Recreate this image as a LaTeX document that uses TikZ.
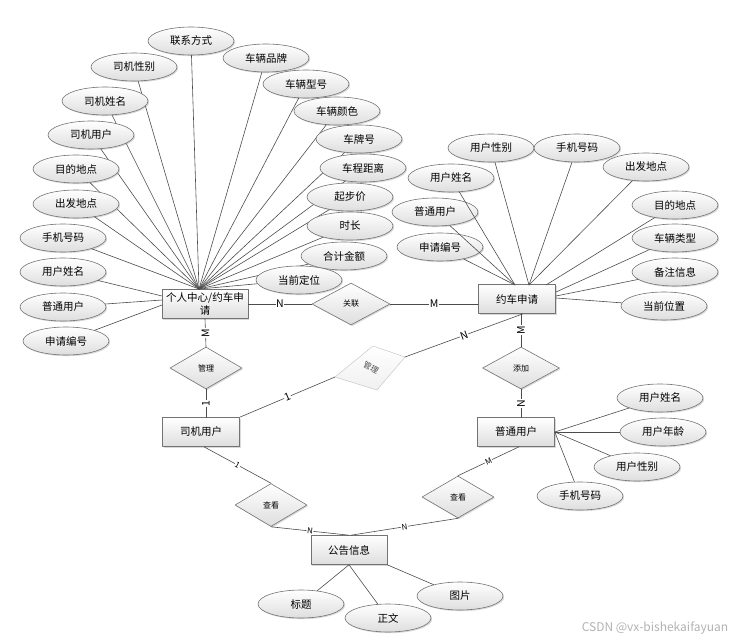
\documentclass[tikz,border=0pt]{standalone}
\usepackage{fontspec}
\setmainfont{Noto Sans CJK SC}
\usetikzlibrary{shapes.geometric,shadows}
\begin{document}
\begin{tikzpicture}[x=1pt,y=-1pt,line join=round,line cap=round]
    \tikzset{shade box/.style={top color=white,bottom color=black!13,draw=black!55,line width=0.6pt,
            drop shadow={shadow xshift=1.2pt,shadow yshift=-1.2pt,opacity=0.3}},
        entity/.style={shade box,rectangle,minimum width=77pt,minimum height=29pt,inner sep=1pt,font=\fontsize{10.5}{12.5}\selectfont},
        attr/.style={shade box,ellipse,minimum width=86pt,minimum height=28pt,inner sep=0pt,font=\fontsize{10.5}{12}\selectfont},
        rel/.style={shade box,diamond,minimum width=76pt,minimum height=42pt,inner sep=0pt,font=\fontsize{8}{10}\selectfont},
        link/.style={draw=black!70,line width=0.6pt},
        card/.style={fill=white,inner sep=0.6pt,font=\fontsize{10.5}{12}\selectfont},
        small card/.style={card,font=\fontsize{8}{10}\selectfont}}
    \useasboundingbox (0,0) rectangle (750,642);
    % entities
    \node[entity,minimum width=86pt,align=center,inner xsep=3pt] (pc) at (205,304) {个人中心/约车申\\请};
    \node[entity] (req) at (517,299) {约车申请};
    \node[entity] (drv) at (201,432) {司机用户};
    \node[entity] (usr) at (516,432) {普通用户};
    \node[entity,minimum width=76pt] (ann) at (349,550) {公告信息};
    % relations
    \node[rel,minimum width=78pt] (link1) at (351,304) {关联};
    \node[rel,minimum width=72pt] (mng) at (206,368) {管理};
    \node[rel,minimum width=77pt] (add) at (521,368) {添加};
    \node[rel,minimum width=72pt,minimum height=43pt] (viewd) at (271,505) {查看};
    \node[rel,minimum width=72pt] (viewu) at (458,497) {查看};
    \coordinate (gt) at (373,346);
    \coordinate (gr) at (405,357);
    \coordinate (gb) at (377,390);
    \coordinate (gl) at (335,377);
    \draw[draw=black!25,top color=white,bottom color=black!6] (gt) -- (gr) -- (gb) -- (gl) -- cycle;
    \node[rotate=-28,text=black!70,font=\fontsize{8}{10}\selectfont] (mng2) at (371,368) {管理};
    % end points of the fans
    \coordinate (pf) at (199,289);
    \coordinate (pl1) at (162,296);
    \coordinate (pl2) at (162,300);
    \coordinate (pl3) at (162,305);
    \coordinate (rf1) at (515,285);
    \coordinate (rf2) at (529,285);
    \coordinate (rf3) at (546,285);
    \coordinate (rr1) at (556,292);
    \coordinate (rr2) at (556,296);
    \coordinate (rr3) at (556,298);
    % attributes
    \foreach \n/\x/\y/\t/\e in {dtel/191/41/联系方式/pf,dsex/134/67/司机性别/pf,dname/105/101/司机姓名/pf,
            duser/91/135/司机用户/pf,ddst/76/169/目的地点/pf,dsrc/76/204/出发地点/pf,ptel/63/238/手机号码/pf,
            pname/63/272/用户姓名/pl1,puser/63/307/普通用户/pl2,pno/66/341/申请编号/pl3,
            cbrand/266/58/车辆品牌/pf,cmodel/306/84/车辆型号/pf,ccolor/337/111/车辆颜色/pf,cplate/359/139/车牌号/pf,
            cdist/363/168/车程距离/pf,cbase/350/197/起步价/pf,ctime/350/226/时长/pf,ctotal/344/256/合计金额/pf,
            cloc/299/280/当前定位/pf,
            rno/440/247/申请编号/rf1,ruser/435/212/普通用户/rf1,rname/451/178/用户姓名/rf1,rsex/491/148/用户性别/rf2,
            rtel/577/148/手机号码/rf2,rsrc/646/167/出发地点/rf2,rdst/675/205/目的地点/rf3,rtype/675/238/车辆类型/rr1,
            rnote/675/272/备注信息/rr2,rpos/664/306/当前位置/rr3,
            uname/660/398/用户姓名/usr.east,uage/663/432/用户年龄/usr.east,usex/637/467/用户性别/usr.east,
            utel/580/496/手机号码/usr.east,
            ttl/301/604/标题/ann.south,body/388/618/正文/ann.south,pic/460/596/图片/ann.south east}
    {
        \node[attr] (\n) at (\x,\y) {\t};
        \draw[link] (\n) -- (\e);
    }
    % relationships
    \draw[link] (pc) -- node[card] {N} (link1);
    \draw[link] (link1) -- node[card] {M} (link1 -| req.west);
    \draw[link] (pc.south) -- node[card,rotate=90] {M} (mng.north);
    \draw[link] (mng.south) -- node[card,rotate=90] {1} (mng.south |- drv.north);
    \draw[link] (drv.north east) -- node[card,sloped] {1} (gl);
    \draw[link] (gr) -- node[card,sloped] {N} ([xshift=6]req.south);
    \draw[link] (add.north |- req.south) -- node[card,rotate=90] {M} (add.north);
    \draw[link] (add.south) -- node[card,rotate=90] {N} (add.south |- usr.north);
    \draw[link] ([xshift=3]drv.south) -- node[small card,sloped] {1} (viewd.north);
    \draw[link] (viewd.south) -- node[small card,sloped] {N} (ann.north);
    \draw[link] ([xshift=3]usr.south) -- node[small card,sloped] {M} (viewu.north);
    \draw[link] (viewu.south) -- node[small card,sloped] {N} ([xshift=2]ann.north);
    \node[text=black!30,font=\fontsize{12}{14}\selectfont] (mark) at (655,628) {CSDN @vx-bishekaifayuan};
\end{tikzpicture}
\end{document}
